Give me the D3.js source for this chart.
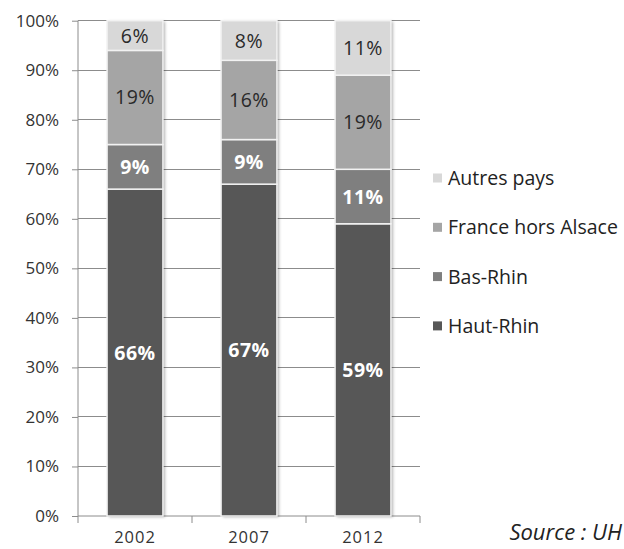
<!DOCTYPE html>
<html><head><meta charset="utf-8">
<script src="https://cdn.jsdelivr.net/npm/d3@7/dist/d3.min.js"></script>
<style>body{margin:0;background:#fff}svg{display:block}text{font-family:"Open Sans","DejaVu Sans",sans-serif}</style>
</head><body><svg id="c" width="624" height="549"></svg>
<script>
const years = ["2002", "2007", "2012"];
const seriesNames = ["Haut-Rhin", "Bas-Rhin", "France hors Alsace", "Autres pays"];
const hautRhin = [66, 67, 59];
const basRhin = [9, 9, 11];
const franceHorsAlsace = [19, 16, 19];
const autresPays = [6, 8, 11];
const yTicks = [0, 10, 20, 30, 40, 50, 60, 70, 80, 90, 100];
const colors = ["#575757", "#7f7f7f", "#a5a5a5", "#d8d8d8"];
const labelColors = ["#ffffff", "#ffffff", "#2a2a2a", "#2a2a2a"];
const source = "Source : UH";

(function () {
const svg = d3.select("#c");
const mLeft = 78, mRight = 420, mTop = 20.7, mBottom = 516;
const x = d3.scaleBand().domain(years).range([mLeft, mRight]).paddingInner(0.51).paddingOuter(0.255);
const y = d3.scaleLinear().domain([0, 100]).range([mBottom, mTop]);

const defs = svg.append("defs");
const f = defs.append("filter").attr("id", "sh").attr("x", "-20%").attr("y", "-5%").attr("width", "140%").attr("height", "110%");
f.append("feDropShadow").attr("dx", 2).attr("dy", 1).attr("stdDeviation", 1.6).attr("flood-color", "#000").attr("flood-opacity", 0.3);

// gridlines
svg.append("g").selectAll("line").data(yTicks.filter(d => d > 0)).join("line")
  .attr("x1", mLeft).attr("x2", mRight).attr("y1", d => y(d)).attr("y2", d => y(d))
  .attr("stroke", "#8c8c8c").attr("stroke-width", 1).attr("shape-rendering", "crispEdges");

// y axis
const yAxis = svg.append("g").attr("transform", `translate(${mLeft},0)`)
  .call(d3.axisLeft(y).tickValues(yTicks).tickSize(6).tickPadding(13).tickFormat(d => d + "%"));
yAxis.select(".domain").attr("stroke", "#8c8c8c").attr("d", `M0,${mTop}V${mBottom}`);
yAxis.selectAll(".tick line").attr("stroke", "#8c8c8c");
yAxis.selectAll("text").attr("font-size", 17).attr("fill", "#333");

// x axis
const xAxis = svg.append("g").attr("transform", `translate(0,${mBottom})`)
  .call(d3.axisBottom(x).tickSize(0).tickPadding(17));
xAxis.select(".domain").attr("stroke", "#8c8c8c").attr("d", `M${mLeft},0H${mRight}`);
xAxis.selectAll("text").attr("font-size", 16.5).attr("fill", "#333").attr("letter-spacing", "1px").attr("dy", "0.6em");
const step = x.step();
svg.append("g").selectAll("line").data(d3.range(years.length + 1)).join("line")
  .attr("x1", i => mLeft + i * step).attr("x2", i => mLeft + i * step)
  .attr("y1", mBottom).attr("y2", mBottom + 7).attr("stroke", "#8c8c8c");

const table = years.map((yr, i) => ({year: yr, "Haut-Rhin": hautRhin[i], "Bas-Rhin": basRhin[i], "France hors Alsace": franceHorsAlsace[i], "Autres pays": autresPays[i]}));
const stack = d3.stack().keys(seriesNames)(table);

// bar shadow
svg.append("g").selectAll("rect").data(table).join("rect")
  .attr("x", d => x(d.year)).attr("width", x.bandwidth())
  .attr("y", d => y(d3.sum(seriesNames, k => d[k]))).attr("height", d => mBottom - y(d3.sum(seriesNames, k => d[k])))
  .attr("fill", "#ccc").attr("filter", "url(#sh)");

const gs = svg.append("g").selectAll("g").data(stack).join("g").attr("fill", (d, i) => colors[i]);
gs.selectAll("rect").data(d => d).join("rect")
  .attr("x", d => x(d.data.year)).attr("width", x.bandwidth())
  .attr("y", d => y(d[1])).attr("height", d => y(d[0]) - y(d[1]))
  .attr("stroke", "#f2f2f2").attr("stroke-width", 1.5);

// labels
stack.forEach((s, i) => {
  svg.append("g").selectAll("text").data(s).join("text")
    .attr("x", d => x(d.data.year) + x.bandwidth() / 2)
    .attr("y", d => y((d[0] + d[1]) / 2))
    .attr("dy", "0.36em").attr("text-anchor", "middle")
    .attr("font-size", 19.5).attr("font-weight", i < 2 ? "bold" : "normal")
    .attr("letter-spacing", "0.5px")
    .attr("fill", labelColors[i]).text(d => (d[1] - d[0]) + "%");
});

// legend
const legendOrder = seriesNames.slice().reverse();
const lg = svg.append("g").selectAll("g").data(legendOrder).join("g")
  .attr("transform", (d, i) => `translate(433,${178 + i * 49.3})`);
lg.append("rect").attr("x", 0).attr("y", -4.5).attr("width", 9).attr("height", 9)
  .attr("fill", d => colors[seriesNames.indexOf(d)]);
lg.append("text").attr("x", 15).attr("dy", "0.36em").attr("font-size", 19.5).attr("fill", "#222").text(d => d);

svg.append("text").attr("x", 622).attr("y", 540).attr("text-anchor", "end")
  .attr("font-size", 22).attr("font-style", "italic").attr("fill", "#222").text(source);
})();
</script></body></html>
